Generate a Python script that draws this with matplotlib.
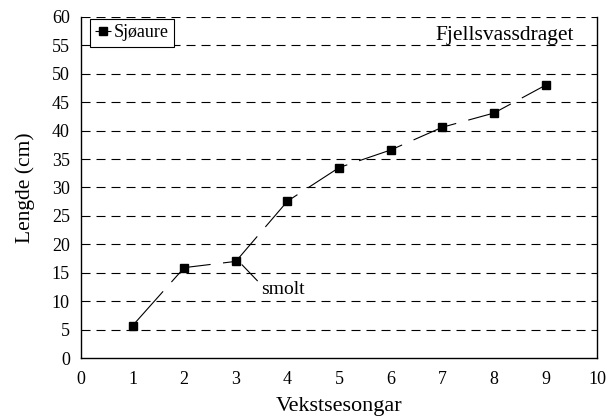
import matplotlib
matplotlib.use('Agg')
import matplotlib.pyplot as plt

plt.rcParams['font.family'] = ['Liberation Serif', 'DejaVu Serif']
plt.rcParams['lines.scale_dashes'] = False

# data
vekstsesong = [1, 2, 3, 4, 5, 6, 7, 8, 9]
lengde = [5.7, 15.9, 17.0, 27.6, 33.5, 36.6, 40.6, 43.1, 48.0]
yticks = list(range(0, 61, 5))
xticks = list(range(0, 11))

fig = plt.figure(figsize=(6.16, 4.2), dpi=100)
ax = fig.add_axes([0.1315, 0.1476, 0.838, 0.812])

# stipla rutenett
for y in yticks:
    if y == 0:
        continue
    ax.axhline(y, color='black', lw=0.8, dashes=(6.5, 4.3), zorder=1)

ax.plot(vekstsesong, lengde, color='black', lw=0.8, dashes=(33, 9),
        marker='s', markersize=5.8, label='Sjøaure', zorder=3)

ax.annotate('smolt', xy=(3.12, 16.4), xytext=(3.49, 12.0),
            fontsize=14, ha='left', va='center',
            arrowprops=dict(arrowstyle='-', color='black', lw=0.8,
                            relpos=(0, 0.8), shrinkA=1, shrinkB=0))

ax.text(0.954, 0.945, 'Fjellsvassdraget', transform=ax.transAxes,
        ha='right', va='center', fontsize=15.5)

ax.set_xlim(0, 10)
ax.set_ylim(0, 60)
ax.set_xticks(xticks)
ax.set_yticks(yticks)
ax.tick_params(length=0, labelsize=13)
ax.tick_params(axis='y', pad=8)
ax.tick_params(axis='x', pad=9)
ax.spines['top'].set_visible(False)
for s in ['left', 'right', 'bottom']:
    ax.spines[s].set_linewidth(1.0)

ax.set_xlabel('Vekstsesongar', fontsize=16, labelpad=7)
ax.set_ylabel('Lengde (cm)', fontsize=15.5, labelpad=12)

leg = ax.legend(loc='upper left', bbox_to_anchor=(0.017, 0.994),
                borderaxespad=0, fontsize=13, handlelength=0.9,
                handletextpad=0.1, borderpad=0.3, fancybox=False,
                framealpha=1, edgecolor='black')
leg.get_frame().set_linewidth(0.8)

fig.savefig('out.png', dpi=100)
